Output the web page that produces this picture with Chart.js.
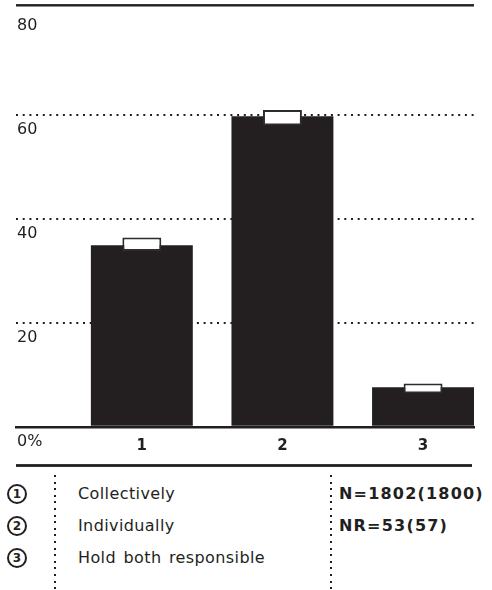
<!DOCTYPE html>
<html>
<head>
<meta charset="utf-8">
<script src="https://cdn.jsdelivr.net/npm/chart.js@4"></script>
<style>
  html, body { margin: 0; padding: 0; background: #fff; }
  body { width: 492px; height: 590px; position: relative; overflow: hidden;
         font-family: "DejaVu Sans", sans-serif; color: #231f20; }
  #wrap { position: absolute; left: 0; top: 0; width: 492px; height: 470px; }
  .vdots { position: absolute; width: 2px;
           background: repeating-linear-gradient(to bottom, #231f20 0 2px, transparent 2px 6.6px); }
  .circ { position: absolute; width: 16px; height: 16px; border: 2px solid #231f20; border-radius: 50%;
          font-size: 12px; font-weight: bold; line-height: 16px; text-align: center; }
  .lab { position: absolute; font-size: 16px; letter-spacing: 0.4px; word-spacing: 2px;
         line-height: 20px; white-space: nowrap; }
  .note { position: absolute; font-size: 16px; font-weight: bold; letter-spacing: 1.2px;
          line-height: 20px; white-space: nowrap; }
</style>
</head>
<body>
<div id="wrap"><canvas id="c" width="492" height="470"></canvas></div>
<div id="legend"></div>
<script>
// ---- data ----
const categories = ['1', '2', '3'];
const categoryNames = ['Collectively', 'Individually', 'Hold both responsible'];
const shares = [34.9, 59.7, 7.6];          // black bars (%)
const rangeLow = [33.8, 57.9, 6.4];        // white marker box, lower edge (%)
const rangeHigh = [36.4, 60.9, 8.3];       // white marker box, upper edge (%)
const yTicks = [0, 20, 40, 60, 80];
const notes = ['N=1802(1800)', 'NR=53(57)'];

const INK = '#231f20';
const positions = categories.map((c, i) => i + 1);

const frameLines = {
  id: 'frameLines',
  afterDraw(chart) {
    const { ctx, chartArea } = chart;
    const xs = chart.scales.x;
    ctx.save();
    ctx.fillStyle = INK;
    ctx.fillRect(chartArea.left, chartArea.top - 6.6, chartArea.right - chartArea.left, 2.4);
    ctx.fillRect(chartArea.left, xs.bottom - 1.4, chartArea.right - chartArea.left - 2, 2.8);
    ctx.restore();
  }
};

new Chart(document.getElementById('c'), {
  type: 'bar',
  data: {
    datasets: [
      {
        label: 'range',
        data: positions.map((x, i) => ({ x: x, y: [rangeLow[i], rangeHigh[i]] })),
        backgroundColor: '#ffffff',
        borderColor: '#2e2b2c',
        borderWidth: 2,
        borderSkipped: false,
        grouped: false,
        barPercentage: 0.277,
        categoryPercentage: 1,
        order: 0
      },
      {
        label: 'share',
        data: positions.map((x, i) => ({ x: x, y: shares[i] })),
        backgroundColor: INK,
        borderWidth: 0,
        grouped: false,
        barPercentage: 0.725,
        categoryPercentage: 1,
        order: 1
      }
    ]
  },
  options: {
    responsive: false,
    animation: false,
    devicePixelRatio: 1,
    layout: { padding: { left: 14, right: 18, top: 10.7, bottom: 4.5 } },
    plugins: { legend: { display: false }, tooltip: { enabled: false } },
    scales: {
      x: {
        type: 'linear',
        offset: false,
        min: 0.105,
        max: 3.3625,
        afterBuildTicks: s => { s.ticks = positions.map(v => ({ value: v })); },
        grid: { drawOnChartArea: false, drawTicks: false, color: 'rgba(0,0,0,0)' },
        border: { display: true, color: INK, width: 2.4 },
        ticks: {
          padding: 11,
          color: INK,
          font: { family: 'DejaVu Sans', size: 15, weight: 'bold', lineHeight: 1.12 },
          callback: (v, i) => categories[i]
        }
      },
      y: {
        min: 0,
        max: 80,
        afterBuildTicks: s => { s.ticks = yTicks.map(v => ({ value: v })); },
        grid: {
          drawTicks: false,
          lineWidth: 2,
          color: c => (c.tick && c.tick.value > 0 && c.tick.value < 80) ? INK : 'rgba(0,0,0,0)'
        },
        border: { display: false, dash: [2, 4.7] },
        ticks: {
          mirror: true,
          padding: 1,
          labelOffset: 15,
          color: INK,
          font: { family: 'DejaVu Sans', size: 16 },
          callback: v => (v === 0 ? '0%' : String(v))
        }
      }
    }
  },
  plugins: [frameLines]
});

// ---- legend below the chart ----
const legend = document.getElementById('legend');
function add(html) { legend.insertAdjacentHTML('beforeend', html); }
add('<div class="vdots" style="left:54px;top:475px;height:115px"></div>');
add('<div class="vdots" style="left:330px;top:475px;height:115px"></div>');
const rowCenters = [494, 526, 558];
categories.forEach((c, i) => {
  const cy = rowCenters[i];
  add('<div class="circ" style="left:7px;top:' + (cy - 10) + 'px">' + c + '</div>');
  add('<div class="lab" style="left:78px;top:' + (cy - 10) + 'px">' + categoryNames[i] + '</div>');
});
notes.forEach((n, i) => {
  const cy = rowCenters[i];
  add('<div class="note" style="left:339px;top:' + (cy - 10) + 'px">' + n + '</div>');
});
</script>
</body>
</html>
